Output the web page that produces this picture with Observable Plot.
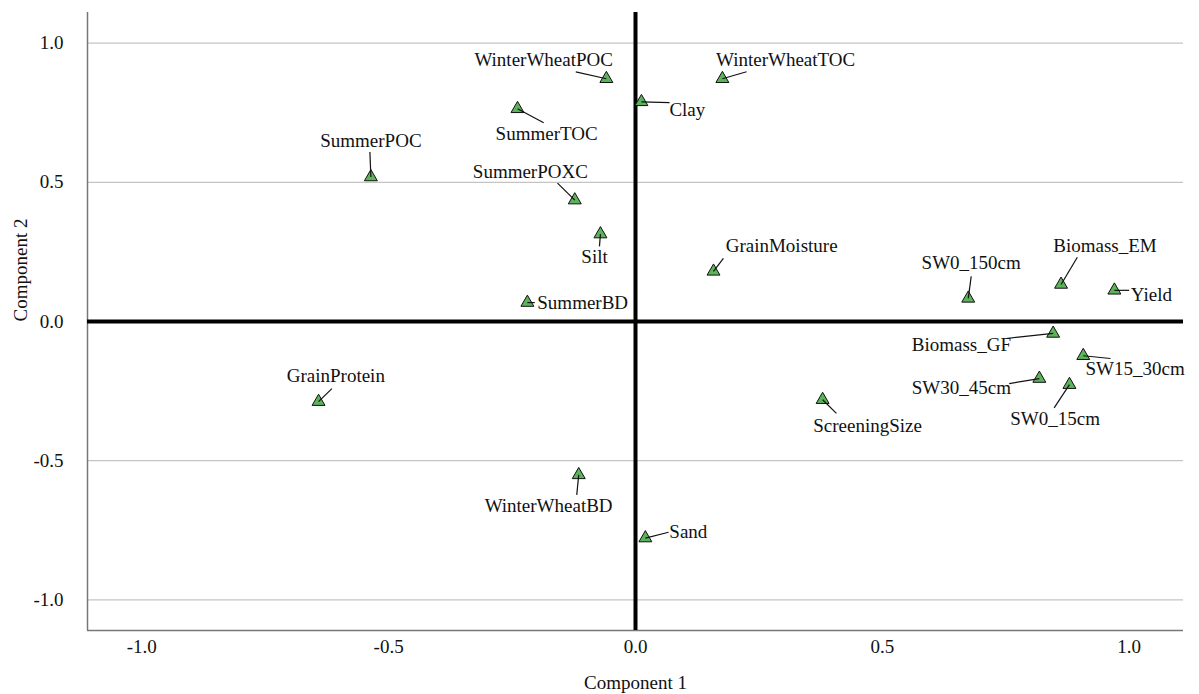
<!DOCTYPE html>
<html>
<head>
<meta charset="utf-8">
<script src="https://cdn.jsdelivr.net/npm/d3@7"></script>
<script src="https://cdn.jsdelivr.net/npm/@observablehq/plot@0.6"></script>
<style>
  html, body { margin: 0; padding: 0; background: #fff; }
  #chart svg { display: block; }
  #chart svg, #chart svg text { font-family: "Liberation Serif", "Times New Roman", serif !important; }
</style>
</head>
<body>
<div id="chart"></div>
<script>
// ---- data ----
const variables = ["WinterWheatPOC","WinterWheatTOC","Clay","SummerTOC","SummerPOC","SummerPOXC","Silt","GrainMoisture","SummerBD","SW0_150cm","Biomass_EM","Yield","Biomass_GF","SW15_30cm","SW30_45cm","SW0_15cm","ScreeningSize","GrainProtein","WinterWheatBD","Sand"];
const component1 = [-0.059, 0.176, 0.012, -0.239, -0.536, -0.123, -0.071, 0.158, -0.219, 0.674, 0.862, 0.970, 0.846, 0.907, 0.818, 0.879, 0.379, -0.642, -0.115, 0.020];
const component2 = [0.872, 0.872, 0.789, 0.764, 0.519, 0.436, 0.314, 0.180, 0.068, 0.083, 0.133, 0.112, -0.043, -0.123, -0.205, -0.227, -0.281, -0.288, -0.551, -0.778];
// label anchors (component units)
const labelX = [-0.186, 0.304, 0.105, -0.180, -0.536, -0.213, -0.083, 0.296, -0.107, 0.680, 0.951, 1.045, 0.660, 1.012, 0.660, 0.850, 0.470, -0.607, -0.176, 0.107];
const labelY = [0.941, 0.941, 0.760, 0.674, 0.649, 0.537, 0.231, 0.270, 0.068, 0.209, 0.270, 0.094, -0.083, -0.169, -0.238, -0.350, -0.375, -0.195, -0.663, -0.757];
// leader line end points (component units)
const leaderX = [-0.121, 0.225, 0.069, -0.186, -0.538, -0.158, -0.073, 0.178, -0.204, 0.680, 0.895, 1.000, 0.751, 0.962, 0.757, 0.848, 0.407, -0.615, -0.119, 0.067];
const leaderY = [0.897, 0.897, 0.786, 0.714, 0.609, 0.497, 0.270, 0.227, 0.068, 0.162, 0.231, 0.112, -0.061, -0.133, -0.223, -0.310, -0.330, -0.241, -0.623, -0.757];
const tickValues = [-1.0, -0.5, 0.0, 0.5, 1.0];
const axisDomain = [-1.11, 1.11];
const xTitle = "Component 1";
const yTitle = "Component 2";

const rows = variables.map((name, i) => ({
  name, c1: component1[i], c2: component2[i],
  lx: labelX[i], ly: labelY[i], ex: leaderX[i], ey: leaderY[i]
}));

const font = "Liberation Serif, Times New Roman, serif";
const fmt = d => d.toFixed(1);

const chart = Plot.plot({
  width: 1199,
  height: 694,
  marginLeft: 87,
  marginRight: 16,
  marginTop: 12,
  marginBottom: 64,
  style: "font-family: 'Liberation Serif', 'Times New Roman', serif; font-size: 19px; color: #111; background: #fff;",
  x: { domain: axisDomain, ticks: tickValues },
  y: { domain: axisDomain, ticks: tickValues },
  marks: [
    Plot.gridY(tickValues.filter(d => d !== 0), { stroke: "#c4c4c4", strokeOpacity: 1, strokeWidth: 1.2 }),
    Plot.ruleX([axisDomain[0]], { stroke: "#777", strokeWidth: 1.5 }),
    Plot.ruleY([axisDomain[0]], { stroke: "#777", strokeWidth: 1.5 }),
    Plot.ruleX([0], { stroke: "#000", strokeWidth: 4 }),
    Plot.ruleY([0], { stroke: "#000", strokeWidth: 4 }),
    Plot.axisX(tickValues, { tickSize: 0, tickPadding: 9, tickFormat: fmt, label: null, fontSize: 19, fontFamily: font }),
    Plot.axisY(tickValues, { tickSize: 0, tickPadding: 24, tickFormat: fmt, label: null, fontSize: 19, fontFamily: font }),
    Plot.text([xTitle], { frameAnchor: "bottom", dy: 58, fontSize: 19, fontFamily: font }),
    Plot.text([yTitle], { frameAnchor: "left", dx: -67, rotate: -90, fontSize: 19, fontFamily: font }),
    Plot.dot(rows, { x: "c1", y: "c2", symbol: "triangle", r: 4.8, fill: "#5cb35c", stroke: "#111", strokeWidth: 1 }),
    Plot.link(rows, { x1: "c1", y1: "c2", x2: "ex", y2: "ey", stroke: "#111", strokeWidth: 1.2 }),
    Plot.text(rows, { x: "lx", y: "ly", text: "name", fontSize: 19, fontFamily: font, fill: "#111" })
  ]
});
document.getElementById("chart").appendChild(chart);
</script>
</body>
</html>
